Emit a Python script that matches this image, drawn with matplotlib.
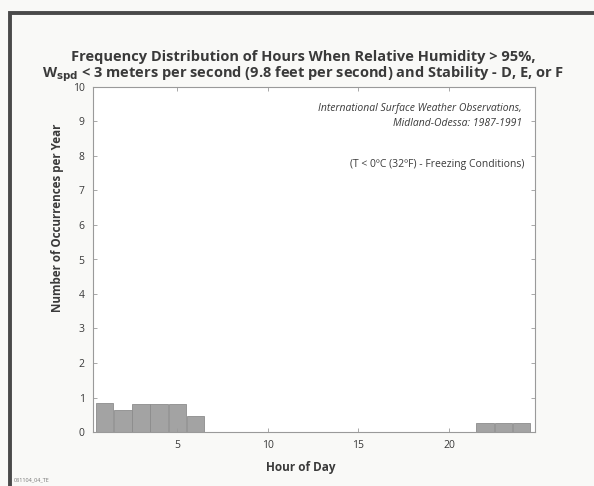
# Frequency distribution of high-humidity, low-wind, stable hours (freezing)
import matplotlib.pyplot as plt
from matplotlib.patches import Rectangle

hours = list(range(1, 25))
occurrences = [0.84, 0.64, 0.82, 0.82, 0.82, 0.45,
               0, 0, 0, 0, 0, 0, 0, 0, 0, 0, 0, 0, 0, 0, 0,
               0.25, 0.25, 0.25]
x_ticks = [5, 10, 15, 20]
y_ticks = list(range(0, 11))

TEXT = "#3a3a3a"
plt.rcParams["font.family"] = ["Open Sans", "DejaVu Sans"]

fig = plt.figure(figsize=(5.94, 4.86), dpi=100, facecolor="#f9f9f7")

# outer border of the scanned figure
fig.patches.append(Rectangle((10 / 594, -0.05), 1.0, 1 - 13 / 486 + 0.05,
                             transform=fig.transFigure, fill=False,
                             edgecolor="#4a4a4a", linewidth=2.8))

ax = fig.add_axes([93 / 594, 1 - 432 / 486, 442 / 594, 345 / 486])
ax.set_facecolor("white")

ax.bar(hours, occurrences, width=0.96, color="#a3a3a3",
       edgecolor="#8c8c8c", linewidth=0.6)

ax.set_xlim(0.35, 24.75)
ax.set_ylim(0, 10)
ax.set_xticks(x_ticks)
ax.set_yticks(y_ticks)
ax.tick_params(direction="in", length=3, width=0.6, color="#9a9a9a",
               labelsize=7.5, labelcolor=TEXT, top=True, right=True, pad=6)
for s in ax.spines.values():
    s.set_color("#9a9a9a")
    s.set_linewidth(0.8)

ax.set_xlabel("Hour of Day", fontsize=8.5, fontweight="bold", color=TEXT)
ax.xaxis.set_label_coords(0.47, -0.085)
ax.set_ylabel("Number of Occurrences per Year", fontsize=8.4,
              fontweight="bold", color=TEXT)
ax.yaxis.set_label_coords(-0.065, 0.62)

ax.text(0.97, 0.955, "International Surface Weather Observations,\n"
        "Midland-Odessa: 1987-1991", transform=ax.transAxes, ha="right",
        va="top", fontsize=7.5, style="italic", color=TEXT, linespacing=1.5)
ax.text(0.975, 0.775, "(T < 0ºC (32ºF) - Freezing Conditions)",
        transform=ax.transAxes, ha="right", va="center", fontsize=7.5,
        color=TEXT)

fig.text(0.51, 1 - 57 / 486,
         "Frequency Distribution of Hours When Relative Humidity > 95%,",
         ha="center", va="center", fontsize=10.5, fontweight="bold",
         color=TEXT)
fig.text(0.51, 1 - 74 / 486,
         r"W$_{\mathbf{spd}}$ < 3 meters per second (9.8 feet per second)"
         " and Stability - D, E, or F",
         ha="center", va="center", fontsize=10.5, fontweight="bold",
         color=TEXT)

fig.text(14 / 594, 1 - 480 / 486, "081104_04_TE", fontsize=4,
         color="#777777", va="center")

plt.savefig("out.png", dpi=100, facecolor=fig.get_facecolor())
